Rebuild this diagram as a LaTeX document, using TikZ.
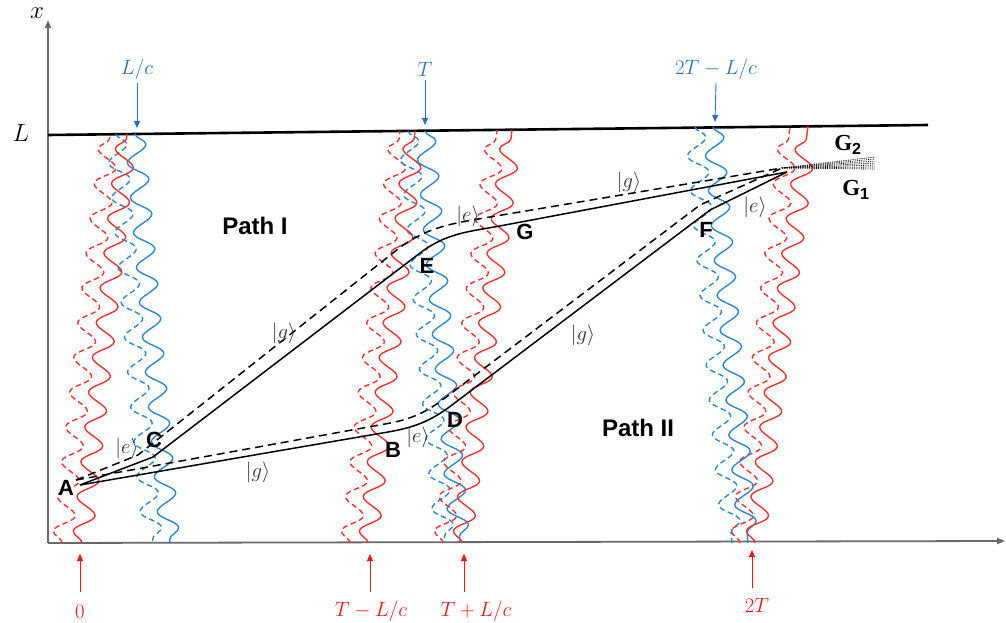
\documentclass[tikz,border=0pt]{standalone}
\usepackage{fontspec}
\setmainfont{Liberation Sans}
\newfontfamily\gfont{Liberation Serif}
\usetikzlibrary{decorations.pathmorphing,arrows.meta}
\definecolor{wred}{RGB}{245,50,50}
\definecolor{wblue}{RGB}{45,135,205}
\definecolor{lblue}{RGB}{40,115,190}
\definecolor{lred}{RGB}{250,20,20}
\definecolor{axgray}{RGB}{105,105,105}
\begin{document}
\begin{tikzpicture}[x=1pt,y=-1pt,
  wave/.style={line width=1.4pt,decorate,decoration={snake,segment length=35pt,amplitude=10pt}},
  rw/.style={wave,draw=wred},
  rwd/.style={wave,draw=wred,dash pattern=on 5.5pt off 3.5pt},
  bw/.style={wave,draw=wblue},
  bwd/.style={wave,draw=wblue,dash pattern=on 5.5pt off 3.5pt},
  traj/.style={black,line width=1.5pt},
  trajd/.style={black,line width=1.5pt,dash pattern=on 8pt off 5pt},
  ptlab/.style={font=\fontsize{22}{26}\selectfont\bfseries},
  ket/.style={font=\fontsize{20}{24}\selectfont,text=black!80},
  blab/.style={text=lblue,font=\fontsize{21}{24}\selectfont},
  rlab/.style={text=lred,font=\fontsize{21}{24}\selectfont},
  barr/.style={draw=lblue,line width=0.9pt,-{Triangle[length=7pt,width=6pt]}},
  rarr/.style={draw=lred,line width=0.9pt,-{Triangle[length=7pt,width=6pt]}},
  axis/.style={draw=axgray,line width=1.8pt,-{Triangle[length=8pt,width=6pt]}},
  glab/.style={font=\fontsize{23}{26}\selectfont\bfseries\gfont},
  pathlab/.style={font=\fontsize{24}{28}\selectfont\bfseries}
]
\useasboundingbox (0,0) rectangle (1006,623);

% axes
\coordinate (O) at (48,543);
\coordinate (Ytop) at (48,20);
\coordinate (Xend) at (1005,541);
\draw[axis] (O) -- (Ytop);
\draw[axis] (O) -- (Xend);
\node (xlab) at (37,13) {\fontsize{25}{28}\selectfont$x$};
\node (Llab) at (21,133) {\fontsize{24}{28}\selectfont$L$};
\coordinate (L0) at (48,135);
\coordinate (L1) at (928,125);
\draw[black,line width=2.6pt] (L0) -- (L1);

% waves group 1
\coordinate (r1b) at (82,543);  \coordinate (r1t) at (127,134);
\coordinate (r1db) at (62,543); \coordinate (r1dt) at (110,134);
\coordinate (b1t) at (135,134); \coordinate (b1b) at (170,543);
\coordinate (b1dt) at (116,134);\coordinate (b1db) at (153,543);
\draw[rwd] (r1db) -- (r1dt);
\draw[bwd] (b1dt) -- (b1db);
\draw[rw] (r1b) -- (r1t);
\draw[bw] (b1t) -- (b1b);
% group 2
\coordinate (r2b) at (368,543);  \coordinate (r2t) at (415,131);
\coordinate (r2db) at (350,543); \coordinate (r2dt) at (400,131);
\coordinate (b2t) at (425,131);  \coordinate (b2b) at (460,543);
\coordinate (b2dt) at (408,131); \coordinate (b2db) at (445,543);
\draw[rwd] (r2db) -- (r2dt);
\draw[bwd] (b2dt) -- (b2db);
\draw[rw] (r2b) -- (r2t);
\draw[bw] (b2t) -- (b2b);
% group 3
\coordinate (r3b) at (462,543);  \coordinate (r3t) at (512,130);
\coordinate (r3db) at (443,543); \coordinate (r3dt) at (497,130);
\draw[rwd] (r3db) -- (r3dt);
\draw[rw] (r3b) -- (r3t);
% group 4
\coordinate (b4t) at (713,127);  \coordinate (b4b) at (748,543);
\coordinate (b4dt) at (695,127); \coordinate (b4db) at (732,543);
\coordinate (r4b) at (755,543);  \coordinate (r4t) at (808,126);
\coordinate (r4db) at (740,543); \coordinate (r4dt) at (790,127);
\draw[bwd] (b4dt) -- (b4db);
\draw[rwd] (r4db) -- (r4dt);
\draw[bw] (b4t) -- (b4b);
\draw[rw] (r4b) -- (r4t);

% top labels and arrows
\node[blab] (lc) at (137,69) {$L/c$};
\node[blab] (tT) at (425,69) {$T$};
\node[blab] (t2) at (716,69) {$2T-L/c$};
\coordinate (lcA) at (137,128);
\coordinate (tTA) at (425,125);
\coordinate (t2A) at (715,122);
\draw[barr] (lc.south) -- (lcA);
\draw[barr] (tT.south) -- (tTA);
\draw[barr] (t2.south) -- (t2A);

% bottom labels and arrows
\node[rlab] (z0) at (80,612) {$0$};
\node[rlab] (tm) at (371,611) {$T-L/c$};
\node[rlab] (tp) at (476,611) {$T+L/c$};
\node[rlab] (t2T) at (757,605) {$2T$};
\coordinate (z0A) at (80,554);
\coordinate (tmA) at (370,554);
\coordinate (tpA) at (464,554);
\coordinate (t2TA) at (752,550);
\draw[rarr] (80,592) -- (z0A);
\draw[rarr] (370,592) -- (tmA);
\draw[rarr] (464,592) -- (tpA);
\draw[rarr] (752,588) -- (t2TA);

% trajectory points (solid)
\coordinate (A) at (80,485);
\coordinate (C) at (153,457);
\coordinate (E) at (420,253);
\coordinate (G) at (505,225);
\coordinate (B) at (388,432);
\coordinate (D) at (452,405);
\coordinate (F) at (710,210);
\coordinate (End) at (787,172);
% dashed
\coordinate (Ad) at (76,480);
\coordinate (Cd) at (138,455);
\coordinate (Ed) at (398,249);
\coordinate (Gd) at (490,217);
\coordinate (Bd) at (385,424);
\coordinate (Dd) at (445,398);
\coordinate (Fd) at (700,205);
\coordinate (Endd) at (782,168);

\draw[traj] (A) -- (C) -- (E) to[out=37,in=191] (G) -- (End);
\draw[traj] (A) -- (B) to[out=10,in=217] (D) -- (F) -- (End);
\draw[trajd] (Ad) -- (Cd) -- (Ed) to[out=37,in=190] (Gd) -- (Endd);
\draw[trajd] (Ad) -- (Bd) to[out=10,in=217] (Dd) -- (Fd) -- (Endd);

% output band
\foreach \yy in {157,159,161,163,165,167,169}{
  \draw[black,line width=0.8pt,densely dotted] (Endd) -- (875,\yy);
}

% point labels
\node[ptlab] (lA) at (66,488) {A};
\node[ptlab] (lC) at (154,440) {C};
\node[ptlab] (lB) at (393,450) {B};
\node[ptlab] (lD) at (455,420) {D};
\node[ptlab] (lE) at (427,266) {E};
\node[ptlab] (lG) at (525,232) {G};
\node[ptlab] (lF) at (706,230) {F};

% kets
\node[ket] (k1) at (127,448) {$|e\rangle$};
\node[ket] (k2) at (284,333) {$|g\rangle$};
\node[ket] (k3) at (258,472) {$|g\rangle$};
\node[ket] (k4) at (418,437) {$|e\rangle$};
\node[ket] (k5) at (468,216) {$|e\rangle$};
\node[ket] (k6) at (629,182) {$|g\rangle$};
\node[ket] (k7) at (583,335) {$|g\rangle$};
\node[ket] (k8) at (755,207) {$|e\rangle$};

% path labels
\node[pathlab] (p1) at (255,226) {Path I};
\node[pathlab] (p2) at (638,428) {Path II};

% G labels
\node[glab] (g2) at (848,145) {G$_{\mathbf{2}}$};
\node[glab] (g1) at (856,190) {G$_{\mathbf{1}}$};
\end{tikzpicture}
\end{document}
